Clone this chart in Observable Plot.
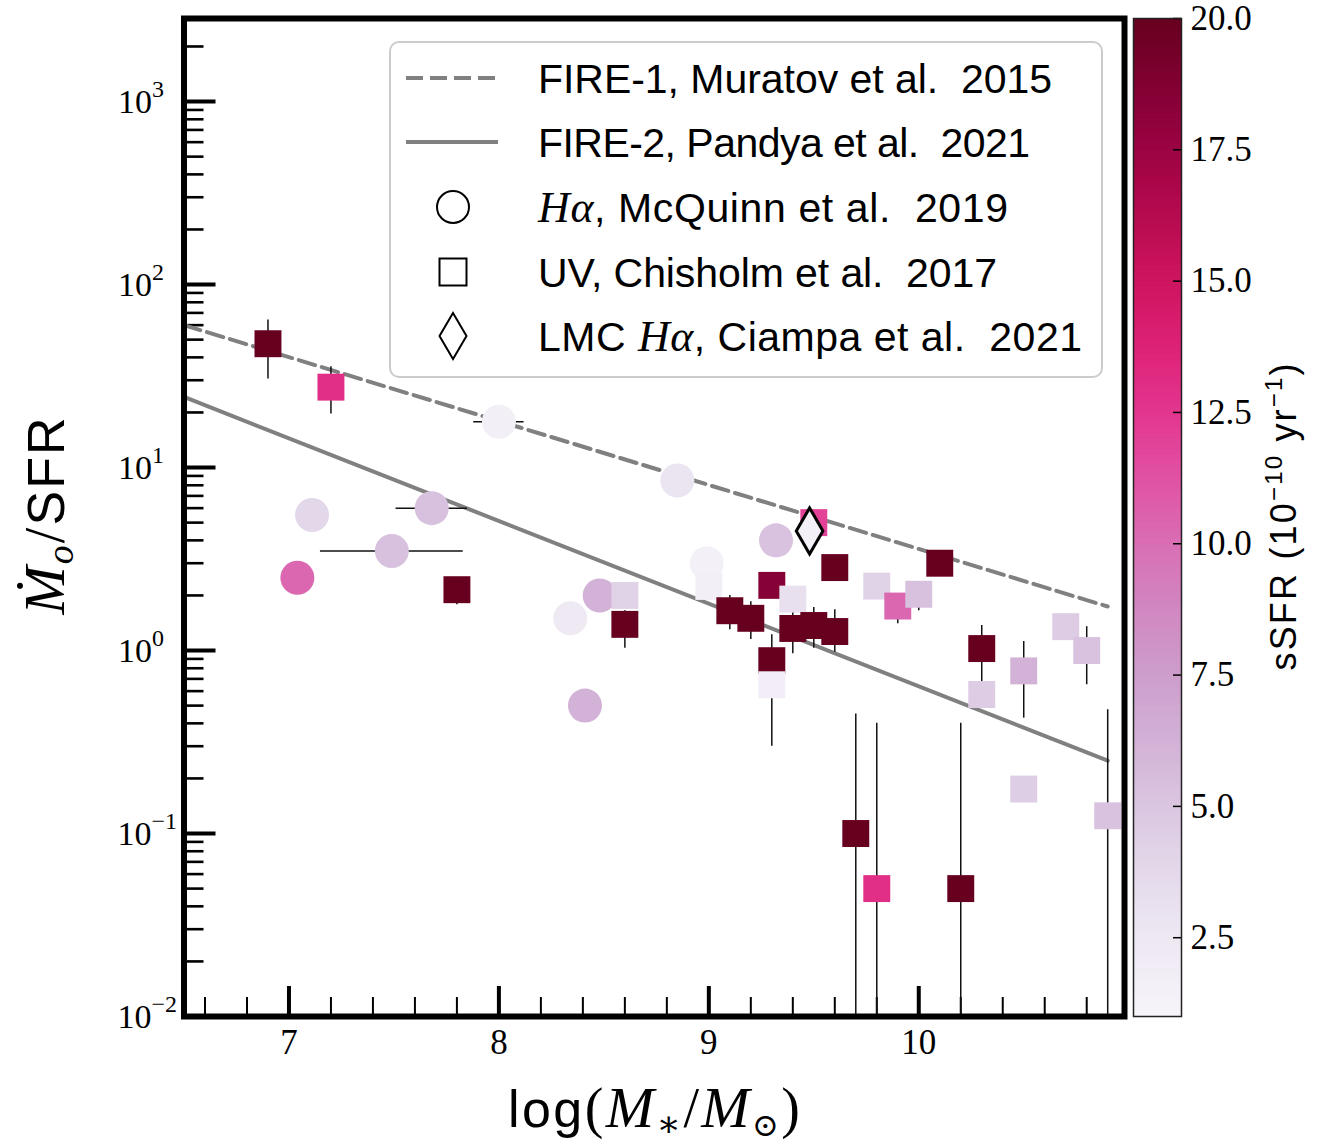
<!DOCTYPE html>
<html><head><meta charset="utf-8">
<script src="https://cdn.jsdelivr.net/npm/d3@7"></script>
<script src="https://cdn.jsdelivr.net/npm/@observablehq/plot@0.6"></script>
<style>
body{margin:0;background:#fff}
#wrap{position:relative;width:1328px;height:1144px;background:#fff}
#wrap svg{position:absolute;top:0;max-width:none}
</style>
</head><body><div id="wrap"></div>
<script>
// ---- data ----
// McQuinn et al. 2019 (H-alpha), circles
const circX    = [8.00, 7.11, 7.68, 7.49, 7.04, 8.34, 8.48, 8.41, 8.85, 8.99, 9.32];
const circY    = [17.8, 5.5, 6.0, 3.5, 2.5, 1.5, 2.0, 0.5, 8.5, 3.0, 4.0];
const circSSFR = [1.6, 3.8, 5.3, 5.3, 10.3, 2.3, 6.2, 6.2, 2.8, 1.5, 5.2];
const circXErr = [0.12, 0, 0.17, 0.34, 0, 0, 0, 0, 0, 0, 0];

// Chisholm et al. 2017 (UV), squares
const sqX    = [6.90, 7.20, 7.80, 8.60, 8.60, 9.00, 9.10, 9.20, 9.30, 9.30, 9.30, 9.40, 9.40, 9.50, 9.50, 9.60, 9.60, 9.80, 9.90, 10.00, 10.10, 10.30, 10.30, 10.50, 10.70, 10.80, 10.50, 10.90, 9.70, 9.80, 10.20];
const sqY    = [47.5, 27.5, 2.15, 2.0, 1.39, 2.24, 1.65, 1.50, 2.27, 0.88, 0.65, 1.32, 1.91, 1.37, 5.0, 1.27, 2.84, 2.25, 1.75, 2.03, 3.0, 1.025, 0.575, 0.774, 1.35, 1.0, 0.175, 0.125, 0.1, 0.05, 0.05];
const sqSSFR = [20, 12.9, 20, 4.2, 20, 1.6, 20, 20, 18.5, 20, 1.8, 20, 3.2, 20, 12.0, 20, 20, 4.2, 10.3, 5.3, 20, 20, 4.6, 6.2, 4.6, 5.2, 4.5, 5.2, 20, 12.9, 20];
const sqYLo  = [30.5, 19.6, 1.78, null, 1.03, null, 1.30, 1.15, null, 0.30, null, 0.96, null, 1.03, null, 0.98, null, null, 1.40, 1.65, 2.6, 0.6, null, 0.427, null, 0.65, 0.15, 0.01, 0.01, 0.01, 0.01];
const sqYHi  = [64, 35.5, 2.4, null, 1.65, null, 2.0, 1.85, null, 1.22, null, 1.9, null, 1.72, null, 1.67, null, null, 2.0, 2.3, 3.3, 1.37, null, 1.12, null, 1.35, 0.2, 0.474, 0.45, 0.40, 0.40];

// Ciampa et al. 2021 (LMC H-alpha), diamond
const lmcX = [9.48];
const lmcY = [4.5];
const lmcSSFR = [1.5];

// FIRE model relations
const fire1X = [6.5, 10.9];
const fire1Y = [60.0, 1.74];
const fire2X = [6.5, 10.9];
const fire2Y = [24.3, 0.25];

// legend labels
const legendLabels = ["FIRE-1, Muratov et al.\u00A0 2015", "FIRE-2, Pandya et al.\u00A0 2021", ", McQuinn et al.\u00A0 2019", "UV, Chisholm et al.\u00A0 2017", ", Ciampa et al.\u00A0 2021"];

// ticks
const xMajor = [7, 8, 9, 10];
const xMinor = [6.6, 6.8, 7.2, 7.4, 7.6, 7.8, 8.2, 8.4, 8.6, 8.8, 9.2, 9.4, 9.6, 9.8, 10.2, 10.4, 10.6, 10.8];
const yMajor = [0.01, 0.1, 1, 10, 100, 1000];
const yMajorExp = ["\u22122", "\u22121", "0", "1", "2", "3"];
const yMinor = [];
for (const d of [0.01, 0.1, 1, 10, 100, 1000]) for (const k of [2,3,4,5,6,7,8,9]) if (k*d < 2800) yMinor.push(+(k*d).toPrecision(3));
const cbTicks = [2.5, 5.0, 7.5, 10.0, 12.5, 15.0, 17.5, 20.0];

// ---- tables ----
const circles = circX.map((x, i) => ({x, y: circY[i], s: circSSFR[i], xe: circXErr[i]}));
const squares = sqX.map((x, i) => ({x, y: sqY[i], s: sqSSFR[i], lo: sqYLo[i], hi: sqYHi[i]}));
const lmc = lmcX.map((x, i) => ({x, y: lmcY[i], s: lmcSSFR[i]}));
const fire1 = fire1X.map((x, i) => ({x, y: fire1Y[i]}));
const fire2 = fire2X.map((x, i) => ({x, y: fire2Y[i]}));

const W = 1328, H = 1144;
const mL = 183.5, mR = 204, mT = 18, mB = 128;
const pw = W - mL - mR, ph = H - mT - mB;
const colorOpts = {type: "linear", scheme: "purd", domain: [1, 20]};
const serif = "'Liberation Serif', 'DejaVu Serif', serif";
const sans = "'Liberation Sans', 'DejaVu Sans', sans-serif";
const dash = "17,7";

const main = Plot.plot({
  width: W, height: H,
  marginLeft: mL, marginRight: mR, marginTop: mT, marginBottom: mB,
  x: {domain: [6.5, 10.98], axis: null},
  y: {type: "log", domain: [0.01, 2844], axis: null},
  color: colorOpts,
  style: {fontFamily: serif, background: "white", overflow: "visible"},
  marks: [
    Plot.tickX(xMinor, {x: d => d, insetTop: ph - 19, stroke: "black", strokeWidth: 2}),
    Plot.tickX(xMajor, {x: d => d, insetTop: ph - 30, stroke: "black", strokeWidth: 4}),
    Plot.tickY(yMinor, {y: d => d, insetRight: pw - 20, stroke: "black", strokeWidth: 2.6}),
    Plot.tickY(yMajor, {y: d => d, insetRight: pw - 32, stroke: "black", strokeWidth: 4}),
    Plot.line(fire1, {x: "x", y: "y", stroke: "#808080", strokeWidth: 4, strokeDasharray: dash}),
    Plot.line(fire2, {x: "x", y: "y", stroke: "#808080", strokeWidth: 4}),
    Plot.ruleX(squares.filter(d => d.lo != null), {x: "x", y1: "lo", y2: "hi", stroke: "#111", strokeWidth: 1.5}),
    Plot.ruleY(circles.filter(d => d.xe > 0), {y: "y", x1: d => d.x - d.xe, x2: d => d.x + d.xe, stroke: "#111", strokeWidth: 1.5}),
    Plot.dot(circles, {x: "x", y: "y", r: 17, fill: "s"}),
    Plot.dot(squares, {x: "x", y: "y", r: 15.2, symbol: "square", fill: "s"}),
    Plot.dot(lmc, {x: "x", y: "y", r: 14, symbol: "diamond", fill: "s", stroke: "black", strokeWidth: 3}),
    Plot.frame({stroke: "black", strokeWidth: 6}),
    Plot.text(xMajor, {x: d => d, text: d => String(d), frameAnchor: "bottom", dy: 13, lineAnchor: "top", fontSize: 35, fontFamily: serif})
  ]
});
main.setAttribute("style", "position:absolute;left:0;top:0;background:white;max-width:none");
document.getElementById("wrap").appendChild(main);

const svg = d3.select(main);
const ys = main.scale("y");

// y tick labels with superscripts
const yl = svg.append("g").attr("font-family", serif).attr("fill", "black");
yMajor.forEach((v, i) => {
  const neg = yMajorExp[i].startsWith("\u2212");
  const t = yl.append("text").attr("x", neg ? 177 : 164).attr("y", ys.apply(v) + 12).attr("text-anchor", "end").attr("font-size", 34);
  t.append("tspan").text("10");
  t.append("tspan").attr("font-size", 24).attr("dy", -16).text(yMajorExp[i]);
});

// axis titles
const yt = svg.append("text").attr("transform", "translate(64,516) rotate(-90)").attr("text-anchor", "middle").attr("font-size", 52).attr("fill", "black")
  .attr("textLength", 197).attr("lengthAdjust", "spacing");
yt.append("tspan").attr("font-family", serif).attr("font-style", "italic").attr("font-size", 58).text("\u1E40");
yt.append("tspan").attr("font-family", serif).attr("font-style", "italic").attr("font-size", 38).attr("dy", 9).text("o");
yt.append("tspan").attr("font-family", serif).attr("font-size", 56).attr("dy", -9).text("/");
yt.append("tspan").attr("font-family", sans).text("SFR");

const xt = svg.append("text").attr("x", 654).attr("y", 1127).attr("text-anchor", "middle").attr("font-size", 52).attr("fill", "black")
  .attr("textLength", 292).attr("lengthAdjust", "spacing");
xt.append("tspan").attr("font-family", sans).text("log");
xt.append("tspan").attr("font-family", serif).attr("font-size", 56).text("(");
xt.append("tspan").attr("font-family", serif).attr("font-style", "italic").attr("font-size", 58).text("M");
xt.append("tspan").attr("font-family", serif).attr("font-size", 36).attr("dy", 9).text("\u2217");
xt.append("tspan").attr("font-family", serif).attr("font-size", 56).attr("dy", -9).text("/");
xt.append("tspan").attr("font-family", serif).attr("font-style", "italic").attr("font-size", 58).text("M");
xt.append("tspan").attr("font-family", serif).attr("font-size", 32).attr("dy", 9).text("\u2299");
xt.append("tspan").attr("font-family", serif).attr("font-size", 56).attr("dy", -9).text(")");

// legend
const lg = svg.append("g").attr("text-anchor", "start");
lg.append("rect").attr("x", 390).attr("y", 42).attr("width", 712).attr("height", 335).attr("rx", 9)
  .attr("fill", "white").attr("fill-opacity", 0.85).attr("stroke", "#cccccc").attr("stroke-width", 2);
const rowsY = [78, 142, 207, 272, 336];
const rowsW = [514, 492, 470, 459, 544];
lg.append("line").attr("x1", 406).attr("x2", 498).attr("y1", rowsY[0]).attr("y2", rowsY[0]).attr("stroke", "#808080").attr("stroke-width", 4).attr("stroke-dasharray", dash);
lg.append("line").attr("x1", 406).attr("x2", 498).attr("y1", rowsY[1]).attr("y2", rowsY[1]).attr("stroke", "#808080").attr("stroke-width", 4);
lg.append("circle").attr("cx", 453).attr("cy", rowsY[2]).attr("r", 16).attr("fill", "none").attr("stroke", "black").attr("stroke-width", 2);
lg.append("rect").attr("x", 453 - 13.5).attr("y", rowsY[3] - 13.5).attr("width", 27).attr("height", 27).attr("fill", "none").attr("stroke", "black").attr("stroke-width", 2);
lg.append("path").attr("d", `M453,${rowsY[4]-23}L466.5,${rowsY[4]}L453,${rowsY[4]+23}L439.5,${rowsY[4]}Z`).attr("fill", "none").attr("stroke", "black").attr("stroke-width", 2);
const lt = (i) => lg.append("text").attr("x", 538).attr("y", rowsY[i] + 15).attr("text-anchor", "start").attr("font-size", 41).attr("font-family", sans).attr("fill", "black")
  .attr("textLength", rowsW[i]).attr("lengthAdjust", "spacing");
lt(0).text(legendLabels[0]);
lt(1).text(legendLabels[1]);
{ const t = lt(2); t.append("tspan").attr("font-family", serif).attr("font-style", "italic").attr("font-size", 44).text("H\u03B1"); t.append("tspan").text(legendLabels[2]); }
lt(3).text(legendLabels[3]);
{ const t = lt(4); t.append("tspan").text("LMC "); t.append("tspan").attr("font-family", serif).attr("font-style", "italic").attr("font-size", 44).text("H\u03B1"); t.append("tspan").text(legendLabels[4]); }

// colorbar
const cbW = 48, cbLeft = 1133, cbSvgW = W - cbLeft;
const cbSteps = d3.range(1, 20, 0.1);
const cb = Plot.plot({
  width: cbSvgW, height: H,
  marginLeft: 0, marginRight: cbSvgW - cbW, marginTop: mT, marginBottom: mB,
  y: {domain: [1, 20], axis: null},
  color: colorOpts,
  style: {fontFamily: serif, background: "transparent", overflow: "visible"},
  marks: [
    Plot.rect(cbSteps, {y1: d => d, y2: d => Math.min(20, d + 0.12), fill: d => d + 0.05}),
    Plot.tickY(cbTicks, {y: d => d, insetLeft: cbW - 8, stroke: "black", strokeWidth: 1.5}),
    Plot.frame({stroke: "#222", strokeWidth: 1.5}),
    Plot.text(cbTicks, {y: d => d, text: d => d.toFixed(1), frameAnchor: "right", dx: 9, textAnchor: "start", fontSize: 35, fontFamily: serif})
  ]
});
cb.setAttribute("style", `position:absolute;left:${cbLeft}px;top:0;background:transparent;max-width:none;overflow:visible`);
document.getElementById("wrap").appendChild(cb);
const cbl = d3.select(cb).append("text").attr("transform", `translate(${1296 - cbLeft},517) rotate(-90)`).attr("text-anchor", "middle").attr("font-size", 36).attr("font-family", sans).attr("fill", "black")
  .attr("textLength", 307).attr("lengthAdjust", "spacing");
cbl.append("tspan").text("sSFR (10");
cbl.append("tspan").attr("font-size", 24).attr("dy", -14).text("\u221210");
cbl.append("tspan").attr("dy", 14).text(" yr");
cbl.append("tspan").attr("font-size", 24).attr("dy", -14).text("\u22121");
cbl.append("tspan").attr("dy", 14).text(")");
</script></body></html>
